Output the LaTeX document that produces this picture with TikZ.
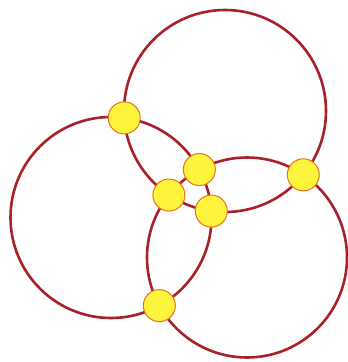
\documentclass[tikz,border=0pt]{standalone}
\usetikzlibrary{intersections}
\definecolor{ringred}{HTML}{A82028}
\definecolor{dotfill}{HTML}{FFF43C}
\definecolor{dotedge}{HTML}{E8701E}
\tikzset{
  ring/.style={draw=ringred, line width=2.6pt},
  dot/.style={circle, fill=dotfill, draw=dotedge, line width=1pt, minimum size=32pt, inner sep=0pt},
}
\begin{document}
\begin{tikzpicture}[x=1pt,y=-1pt]
\useasboundingbox (0,0) rectangle (348,362);
\fill[white] (0,0) rectangle (348,362);
\coordinate (cA) at (225,111);
\coordinate (cB) at (111,217.5);
\coordinate (cC) at (247,257.5);
\draw[ring, name path=A] (cA) circle[radius=101];
\draw[ring, name path=B] (cB) circle[radius=100.5];
\draw[ring, name path=C] (cC) circle[radius=100];
\path[name intersections={of=A and B, name=ab}];
\path[name intersections={of=A and C, name=ac}];
\path[name intersections={of=B and C, name=bc}];
\node[dot] (d1) at (ab-1) {};
\node[dot] (d2) at (ab-2) {};
\node[dot] (d3) at (ac-1) {};
\node[dot] (d4) at (ac-2) {};
\node[dot] (d5) at (bc-1) {};
\node[dot] (d6) at (bc-2) {};
\end{tikzpicture}
\end{document}
